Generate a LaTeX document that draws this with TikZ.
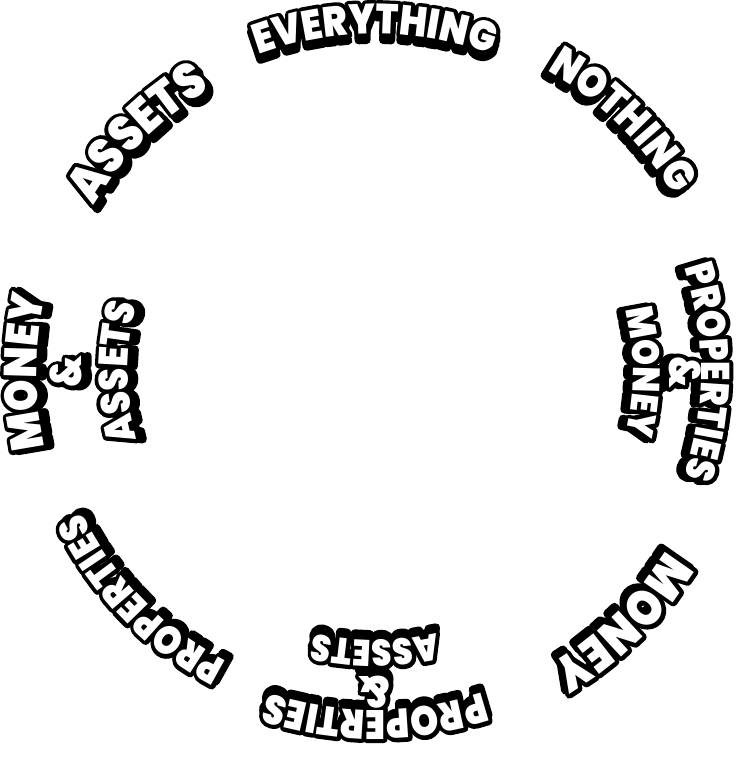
\documentclass[tikz,border=0pt]{standalone}
\usepackage{fontspec}
\usetikzlibrary{decorations.text}
\IfFontExistsTF{Poppins Black}{\newfontfamily\wf{Poppins Black}[FakeStretch=0.87]}{\newfontfamily\wf{Poppins Bold}[FakeStretch=0.87]}
\makeatletter
\newcommand\strokemode{\pgfsys@invoke{ 2 Tr }}
\makeatother
% #1 angle, #2 baseline radius, #3 font size, #4 colour, #5 text
\newcommand\arctext[5]{%
  \path[decorate, decoration={text along path, text align=center,
      text={|\wf\fontsize{#3}{#3}\selectfont\color{#4}|#5}}]
    (#1+80:#2pt) arc[start angle=#1+80, end angle=#1-80, radius=#2pt];}
\newcommand\shadowtext[4]{%
  \path[decorate, shift={(#1+180:6pt)}, decoration={text along path, text align=center,
      text={|\wf\fontsize{#3}{#3}\selectfont\color{black}|#4}}]
    (#1+80:#2pt) arc[start angle=#1+80, end angle=#1-80, radius=#2pt];}
% ampersand as a rotated node: #1 angle, #2 mid radius, #3 size, #4 colour, #5 name
\newcommand\ampnode[5]{%
  \node[inner sep=0pt, text=#4, rotate=#1-90,
        font=\wf\fontsize{#3}{#3}\selectfont] (#5) at (#1:#2pt) {\&};}
\newcommand\alllabels[1]{%
  #1{90}{338}{42}{EVERYTHING}
  #1{45.5}{347}{43}{NOTHING}
  #1{0}{326}{40}{PROPERTIES}
  #1{0}{258}{38}{MONEY}
  #1{-45.3}{341}{50}{MONEY}
  #1{-90}{338}{41}{PROPERTIES}
  #1{-90}{268}{37}{ASSETS}
  #1{-135.8}{325}{40}{PROPERTIES}
  #1{180}{338}{46}{MONEY}
  #1{180}{247}{41}{ASSETS}
  #1{134.8}{327}{50}{ASSETS}}
\newcommand\allamps[2]{%
  #1{0}{310}{44}{#2}{ampR}
  #1{-90}{320}{44}{#2}{ampB}
  #1{180}{309}{44}{#2}{ampL}}
\newcommand\blackcopy[4]{\shadowtext{#1}{#2}{#3}{#4}\arctext{#1}{#2}{#3}{black}{#4}}
\newcommand\whitecopy[4]{\arctext{#1}{#2}{#3}{white}{#4}}
\newcommand\ampshadow[5]{\begin{scope}[shift={(#1+180:6pt)}]\ampnode{#1}{#2}{#3}{#4}{#5s}\end{scope}\ampnode{#1}{#2}{#3}{#4}{#5o}}
\begin{document}
\begin{tikzpicture}
\useasboundingbox[fill=white] (-375pt,-388pt) rectangle (379pt,372pt);
\begin{scope}[line width=8pt, line join=round]
  \strokemode
  \alllabels\blackcopy
  \allamps\ampshadow{black}
\end{scope}
\begin{scope}
  \alllabels\whitecopy
  \allamps\ampnode{white}
\end{scope}
\end{tikzpicture}
\end{document}
